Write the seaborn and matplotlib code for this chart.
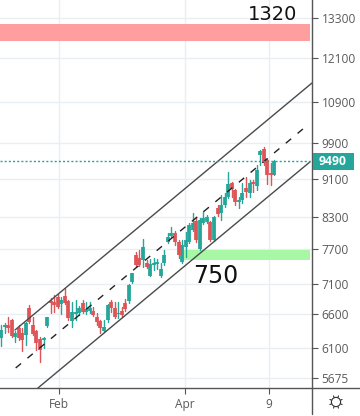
import numpy as np
import pandas as pd
import seaborn as sns
import matplotlib
matplotlib.use("Agg")
import matplotlib.pyplot as plt
from matplotlib.lines import Line2D
from matplotlib.patches import Circle, Rectangle
from matplotlib.ticker import FixedLocator, FixedFormatter, NullLocator

opens = [6243,6406,6437,6513,6257,6391,6317,6287,6701,6437,6346,6228,6213,6422,6813,6797,6877,6765,6894,6813,6498,6607,6622,6781,6638,6653,6653,6560,6498,6346,6513,6797,6701,6607,
         6653,6781,6813,7125,7595,7541,7505,7453,7228,7417,7435,7228,7453,
         7832,7943,8000,7832,7470,7740,7832,8057,8230,7703,8192,8211,8211,7868,8487,8387,8548,
         8711,9004,8857,8609,8649,8899,8794,9026,8941,9620,9757,9507,9221,9177]
closes = [6361,6437,6391,6272,6317,6243,6213,6467,6482,6302,6169,6067,6243,6560,6781,6749,6717,6829,6781,6544,6638,6638,6701,6638,6685,6701,6591,6482,6391,6406,6749,6701,6560,6622,
          6591,6685,7075,7279,7417,7417,7740,7382,7435,7453,7470,7347,7595,
          7924,8000,7832,7595,7776,7868,8153,8192,7868,8250,8289,8309,7868,8309,8368,8548,8711,
          8982,8878,8609,8649,8794,8815,9004,8983,9286,9711,9440,9177,9177,9485]
highs = [6437,6467,6560,6529,6346,6437,6391,6482,6749,6560,6361,6257,6257,6560,6861,6910,6926,6877,7025,6829,6797,6829,6733,6829,6797,6797,6717,6622,6513,6513,6765,6829,6797,6797,
         6717,6845,7092,7279,7649,7685,7887,7505,7523,7541,7523,7453,7685,
         8000,8115,8038,7868,7868,8019,8192,8387,8309,8289,8427,8348,8230,8328,8548,8753,8794,
         9241,9026,8878,8711,9004,9134,9068,9068,9396,9734,9802,9529,9440,9507]
lows = [6125,6317,6331,6257,6184,6213,6053,6140,6467,6287,6067,5897,6096,6406,6622,6638,6701,6607,6765,6513,6406,6513,6591,6622,6607,6622,6575,6437,6317,6331,6482,6638,6544,6544,
        6560,6653,6781,7109,7400,7400,7382,7365,7228,7330,7347,7211,7417,
        7813,7924,7776,7541,7453,7559,7813,8038,7832,7685,8172,8192,7850,7850,8328,8250,8507,
        8690,8711,8548,8487,8589,8711,8711,8815,8857,9396,9396,8983,8962,9177]

upper_x, upper_y = [3.94, 87.6], [6361, 11406]
middle_x, middle_y = [4.14, 86.4], [5815, 10328]
lower_x, lower_y = [10.4, 87.0], [5546, 9463]

y_ticks = [13300, 12100, 10900, 9900, 9100, 8300, 7700, 7100, 6600, 6100, 5675]
x_ticks = [16.3, 51.8, 75.5]
x_labels = ["Feb", "Apr", "9"]
last_price = 9490
red_zone = (13113, 12596)
green_zone = (7685, 7505)
green_start = 51.3
zone_end = 87.0

RED, TEAL = "#de5558", "#26a69a"
W, H = 360, 416

sns.set_theme(style="white")
plt.rcParams["font.family"] = ["Open Sans", "DejaVu Sans"]

fig = plt.figure(figsize=(W / 100, H / 100), dpi=100)
ax = fig.add_axes([0, 28 / H, 312 / W, 388 / H])
ax.set_yscale("log")
ax.set_xlim(-0.28, 87.6)
ax.set_ylim(5546, 13878)
ax.set_axisbelow(True)

idx = np.arange(len(opens))
up = np.array(closes) >= np.array(opens)
direction = np.where(up, "up", "down")
palette = {"up": TEAL, "down": RED}

ax.add_patch(Rectangle((-0.28, red_zone[1]), zone_end + 0.28, red_zone[0] - red_zone[1],
                       color="#ff9e9e", lw=0, zorder=1))
ax.add_patch(Rectangle((green_start, green_zone[1]), zone_end - green_start, green_zone[0] - green_zone[1],
                       color="#a8f7a4", lw=0, zorder=1))

wicks = pd.DataFrame({"i": np.r_[idx, idx], "price": highs + lows, "dir": np.r_[direction, direction]})
bodies = pd.DataFrame({"i": np.r_[idx, idx], "price": opens + closes, "dir": np.r_[direction, direction]})
sns.lineplot(data=wicks, x="i", y="price", hue="dir", units="i", estimator=None, palette=palette,
             linewidth=1.0, legend=False, ax=ax, zorder=3, sort=False)
sns.lineplot(data=bodies, x="i", y="price", hue="dir", units="i", estimator=None, palette=palette,
             linewidth=2.7, legend=False, ax=ax, zorder=3, sort=False, solid_capstyle="butt")

channel = dict(color="#4a4a4a", linewidth=1.0, legend=False, ax=ax, zorder=4)
sns.lineplot(x=upper_x, y=upper_y, **channel)
sns.lineplot(x=lower_x, y=lower_y, **channel)
sns.lineplot(x=middle_x, y=middle_y, color="#222222", linewidth=1.0, legend=False, ax=ax, zorder=4,
             linestyle=(0, (5, 6)))

ax.axhline(last_price, color=TEAL, lw=1.0, ls=(0, (1.5, 1.5)), zorder=4)

ax.text(76.6, 13426, "1320", fontsize=14, family="DejaVu Sans", color="#111111",
        ha="center", va="center", zorder=6)
ax.text(60.6, 7225, "750", fontsize=17, family="DejaVu Sans", color="#111111",
        ha="center", va="center", zorder=6)

ax.set_xlabel("")
ax.set_ylabel("")
ax.yaxis.tick_right()
ax.yaxis.set_major_locator(FixedLocator(y_ticks))
ax.yaxis.set_major_formatter(FixedFormatter([str(v) for v in y_ticks]))
ax.yaxis.set_minor_locator(NullLocator())
ax.xaxis.set_major_locator(FixedLocator(x_ticks))
ax.xaxis.set_major_formatter(FixedFormatter(x_labels))
ax.grid(True, color="#e9eef2", lw=1.0)
ax.tick_params(axis="y", which="major", right=True, length=4, width=0.8, color="#555555",
               labelsize=8.6, labelcolor="#5a5a5a", pad=3)
ax.tick_params(axis="x", which="major", bottom=True, length=4, width=0.8, color="#555555",
               labelsize=8.6, labelcolor="#5a5a5a", pad=3)
for s in ("top", "left"):
    ax.spines[s].set_visible(False)
for s in ("right", "bottom"):
    ax.spines[s].set_color("#555555")
    ax.spines[s].set_linewidth(1.0)

def fx(x):
    return x / W
def fy(y):
    return 1 - y / H

fig.add_artist(Line2D([fx(312), fx(360)], [fy(388), fy(388)], color="#555555", lw=1.0))
fig.add_artist(Line2D([fx(312), fx(312)], [fy(388), fy(414)], color="#555555", lw=1.0))

# last-price badge
fig.add_artist(Rectangle((fx(312.5), fy(169.5)), 41.5 / W, 16.5 / H, transform=fig.transFigure,
                         color=TEAL, lw=0))
fig.text(fx(333), fy(161.3), str(last_price), color="white", fontsize=8.8, fontweight="bold",
         ha="center", va="center", family="Open Sans")

# settings icon
cx, cy = 336, 402
icon = Circle((cx, H - cy), 4.6, fill=False, ec="#333333", lw=0.8, transform=None)
fig.add_artist(icon)
for a in np.deg2rad(np.arange(0, 360, 45) + 22.5):
    fig.add_artist(Line2D([fx(cx + 5 * np.cos(a)), fx(cx + 6.6 * np.cos(a))],
                          [fy(cy + 5 * np.sin(a)), fy(cy + 6.6 * np.sin(a))],
                          color="#333333", lw=0.8))

fig.savefig("out.png", dpi=100, facecolor="white")
